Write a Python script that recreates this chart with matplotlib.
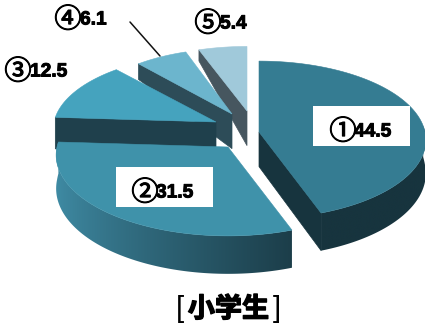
import numpy as np
import matplotlib
matplotlib.use("Agg")
import matplotlib.pyplot as plt
import matplotlib.patheffects as pe
from matplotlib.colors import to_rgb
from matplotlib.patches import Polygon, Rectangle

plt.rcParams['font.family'] = ['Noto Sans CJK JP', 'DejaVu Sans']

# Shares of each answer, in percent
marks = ['①', '②', '③', '④', '⑤']
values = [44.5, 31.5, 12.5, 6.1, 5.4]
title = '小学生'

# Exploded slice layout: apex position, horizontal and vertical radius
apexes = [(259, 132), (228, 147), (216, 122), (232, 114), (247, 111)]
radii = [(166, 78), (171, 80), (162, 75), (152, 72), (158, 71)]
top_colors = ['#357c92', '#3f92aa', '#45a3be', '#6cb5cd', '#a0c9da']
cut_colors = ['#17343e', '#1d3f4b', '#1f404c', '#2d4c58', '#46565f']
rim_left = ['#17343e', '#3f8ba4']
rim_right = ['#17343e', '#1c3e4a']
TILT = 0.10
DEPTH = 33


def project(i, theta):
    """Screen position of the rim at clockwise angle theta (radians), tilted in perspective."""
    s = -np.cos(theta)
    w = 1 - TILT * s
    ax_, ay_ = apexes[i]
    rx, ry = radii[i]
    return ax_ + rx * np.sin(theta) / w, ay_ + ry * s / w


def depth(theta):
    s = -np.cos(theta)
    return DEPTH * (1 + np.where(s > 0, 0.15, 0.7) * s)


fig = plt.figure(figsize=(4.25, 3.24), dpi=100)
ax = fig.add_axes([0, 0, 1, 1])
ax.axis('off')

edges = np.deg2rad(np.concatenate([[0], np.cumsum(values) / 100 * 360]))

# Far slices first so the nearer ones overlap them
for i in [4, 3, 2, 1, 0]:
    a0, a1 = edges[i], edges[i + 1]
    apex = apexes[i]
    zo = 10 - i if i > 1 else 10 + i

    # Cut face: the trailing edge for left-hand slices, the leading one for the first slice
    cut = a0 if i >= 2 else (a1 if i == 0 else None)
    if cut is not None:
        x, y = project(i, cut)
        ax.add_patch(Polygon(
            [apex, (x, y), (x, y + depth(cut)), (apex[0], apex[1] + DEPTH * 1.05)],
            closed=True, fc=cut_colors[i], ec=cut_colors[i], lw=0.5, zorder=zo))

    # Outer wall on the near half, shaded from left to right
    if i < 2:
        ts = np.linspace(max(a0, np.pi / 2 * 0.95), min(a1, np.pi * 1.55), 160)
        xs, ys = project(i, ts)
        bottom = ys + depth(ts)
        outline = list(zip(xs, ys)) + list(zip(xs[::-1], bottom[::-1]))
        x0, x1 = xs.min(), xs.max()
        f = np.linspace(0, 1, 256) ** 0.8
        c0, c1 = np.array(to_rgb(rim_left[i])), np.array(to_rgb(rim_right[i]))
        shade = (c0[None, :] + (c1 - c0)[None, :] * f[:, None])[None, :, :]
        im = ax.imshow(shade, extent=(x0, x1, bottom.max(), ys.min()), aspect='auto',
                       interpolation='bilinear', zorder=zo)
        clip = Polygon(outline, closed=True, transform=ax.transData, fc='none', ec='none')
        ax.add_patch(clip)
        im.set_clip_path(clip)

    # Top face
    ts = np.linspace(a0, a1, 120)
    xs, ys = project(i, ts)
    ax.add_patch(Polygon([apex] + list(zip(xs, ys)), closed=True,
                         fc=top_colors[i], ec=top_colors[i], lw=0.4, zorder=zo + 0.5))

ax.set_xlim(0, 425)
ax.set_ylim(324, 0)

# Leader line for the small slice
ax.plot([130, 160], [22, 56], color='#111111', lw=1.1, zorder=20, solid_capstyle='round')

# White plates behind the two large labels
ax.add_patch(Rectangle((313, 106), 97, 40, fc='white', ec='none', zorder=21))
ax.add_patch(Rectangle((116, 167), 97, 40, fc='white', ec='none', zorder=21))

# Each label is a circled numeral followed by its value
mark_xy = [(343, 132), (145, 193), (18, 72), (68, 20), (208, 24)]
value_xy = [(354, 132), (156, 193), (30, 72), (80, 20), (220, 24)]
stroke = [pe.withStroke(linewidth=0.7, foreground='black')]
ring = [pe.withStroke(linewidth=0.8, foreground='black')]
for m, v, (mx, my), (vx, vy) in zip(marks, values, mark_xy, value_xy):
    ax.text(mx, my, m, ha='center', va='center', fontsize=19.5, color='black', zorder=22,
            path_effects=ring)
    ax.text(vx, vy, f'{v}', ha='left', va='center', fontsize=13.8, fontweight='bold',
            family='Liberation Sans', color='black', zorder=22, path_effects=stroke)

ax.text(228.5, 309, title, ha='center', va='center', fontsize=19.5, fontweight='bold',
        color='black', zorder=22,
        path_effects=[pe.withStroke(linewidth=1.0, foreground='black')])
ax.text(180, 309, '[', ha='center', va='center', fontsize=21, family='Liberation Sans',
        color='black', zorder=22)
ax.text(277, 309, ']', ha='center', va='center', fontsize=21, family='Liberation Sans',
        color='black', zorder=22)

fig.savefig('out.png', dpi=100, facecolor='white')
